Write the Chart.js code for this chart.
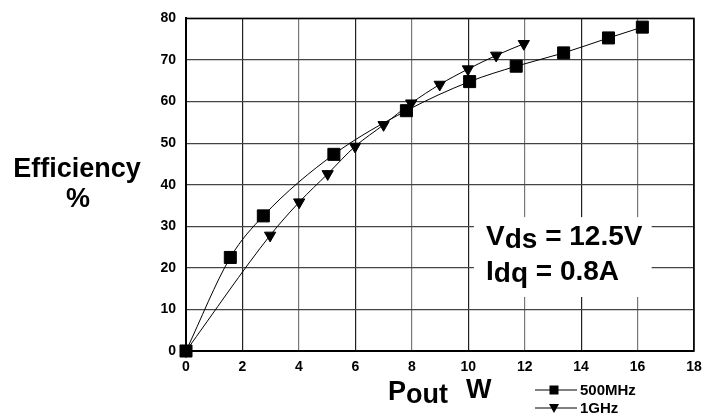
<!DOCTYPE html>
<html>
<head>
<meta charset="utf-8">
<script src="https://cdn.jsdelivr.net/npm/chart.js@4.4.0/dist/chart.umd.min.js"></script>
<style>
  html, body { margin: 0; padding: 0; background: #fff; }
  #wrap { width: 720px; height: 420px; }
</style>
</head>
<body>
<div id="wrap"><canvas id="effChart" width="720" height="420"></canvas></div>
<script>
// Pout (W) and drain efficiency (%)
const pout500 = [0, 1.57, 2.74, 5.24, 7.81, 10.05, 11.7, 13.38, 14.97, 16.17];
const eff500 = [0, 22.5, 32.5, 47.3, 57.8, 64.8, 68.5, 71.7, 75.3, 77.9];
const pout1g = [0, 2.98, 4.01, 5.02, 5.99, 7.0, 7.98, 8.99, 9.99, 10.99, 11.97];
const eff1g = [0, 27.8, 35.8, 42.6, 49.2, 54.4, 59.6, 64.1, 67.8, 71.1, 73.9];
const seriesNames = ["500MHz", "1GHz"];
const xTickRange = [0, 18, 2];
const yTickRange = [0, 80, 10];

const FONT = '"Liberation Sans", Arial, sans-serif';

function toPoints(xs, ys) {
  return xs.map((x, i) => ({ x: x, y: ys[i] }));
}

// titles, condition box, legend and frame
const decorations = {
  id: "decorations",
  beforeDatasetsDraw(chart) {
    const { ctx, scales } = chart;
    const x = scales.x, y = scales.y;
    // white box behind the bias text
    ctx.save();
    ctx.fillStyle = "#fff";
    ctx.fillRect(x.getPixelForValue(10.2), y.getPixelForValue(32.2),
      x.getPixelForValue(16.5) - x.getPixelForValue(10.2),
      y.getPixelForValue(13) - y.getPixelForValue(32.2));
    ctx.restore();
  },
  afterDraw(chart) {
    const { ctx, chartArea } = chart;
    ctx.save();
    ctx.strokeStyle = "#000";
    ctx.lineWidth = 1.5;
    ctx.strokeRect(chartArea.left, chartArea.top, chartArea.right - chartArea.left, chartArea.bottom - chartArea.top);

    ctx.fillStyle = "#000";
    ctx.textBaseline = "alphabetic";
    ctx.font = "bold 27px " + FONT;
    ctx.textAlign = "center";
    ctx.fillText("Efficiency", 77, 177);
    ctx.fillText("%", 78, 207);

    ctx.textAlign = "left";
    ctx.fillText("P", 388, 400);
    const pw = ctx.measureText("P").width;
    ctx.fillText("out", 388 + pw, 403);
    ctx.fillText("W", 466, 398);

    // Vds / Idq
    ctx.font = "bold 28px " + FONT;
    ctx.fillText("V", 486, 245);
    let w = ctx.measureText("V").width;
    ctx.fillText("ds", 486 + w, 248);
    w += ctx.measureText("ds").width;
    ctx.fillText(" = 12.5V", 486 + w, 245);
    ctx.fillText("I", 486, 280);
    w = ctx.measureText("I").width;
    ctx.fillText("dq", 486 + w, 282);
    w += ctx.measureText("dq").width;
    ctx.fillText(" = 0.8A", 486 + w, 280);

    // legend
    const rows = [[390, "rect"], [408, "triangle"]];
    ctx.font = "bold 15px " + FONT;
    ctx.textBaseline = "middle";
    rows.forEach((r, i) => {
      const ly = r[0];
      ctx.strokeStyle = "#000";
      ctx.lineWidth = 1;
      ctx.beginPath();
      ctx.moveTo(535, ly);
      ctx.lineTo(577, ly);
      ctx.stroke();
      ctx.beginPath();
      if (r[1] === "rect") {
        ctx.rect(549.5, ly - 4.5, 9, 9);
      } else {
        ctx.moveTo(549, ly - 4);
        ctx.lineTo(559, ly - 4);
        ctx.lineTo(554, ly + 5);
        ctx.closePath();
      }
      ctx.fill();
      ctx.fillText(seriesNames[i], 580, ly + 1);
    });
    ctx.restore();
  }
};

new Chart(document.getElementById("effChart"), {
  type: "scatter",
  data: {
    datasets: [
      {
        label: seriesNames[0],
        data: toPoints(pout500, eff500),
        showLine: true,
        borderColor: "#000",
        backgroundColor: "#000",
        borderWidth: 1,
        pointStyle: "rect",
        pointRadius: 8.5,
        pointHoverRadius: 8.5,
        cubicInterpolationMode: "monotone",
        clip: false
      },
      {
        label: seriesNames[1],
        data: toPoints(pout1g, eff1g),
        showLine: true,
        borderColor: "#000",
        backgroundColor: "#000",
        borderWidth: 1,
        pointStyle: "triangle",
        rotation: 180,
        pointRadius: 6.5,
        pointHoverRadius: 6.5,
        cubicInterpolationMode: "monotone",
        clip: false
      }
    ]
  },
  options: {
    responsive: false,
    animation: false,
    devicePixelRatio: 1,
    layout: { padding: { top: 12, right: 26, left: 0, bottom: 0 } },
    plugins: { legend: { display: false }, tooltip: { enabled: false } },
    scales: {
      x: {
        type: "linear",
        min: xTickRange[0], max: xTickRange[1],
        afterFit(scale) { scale.height = 69; },
        ticks: { stepSize: xTickRange[2], color: "#000", padding: 8, font: { family: FONT, size: 14, weight: "bold" } },
        grid: {
          drawTicks: false,
          color: ctx => (ctx.index % 2 === 1 ? "#222" : "#777"),
          lineWidth: 1.2
        },
        border: { color: "#000", width: 2 }
      },
      y: {
        type: "linear",
        min: yTickRange[0], max: yTickRange[1],
        afterFit(scale) { scale.width = 186; },
        ticks: { stepSize: yTickRange[2], color: "#000", padding: 10, font: { family: FONT, size: 14, weight: "bold" } },
        grid: { drawTicks: false, color: "#444", lineWidth: 1.2 },
        border: { color: "#000", width: 2 }
      }
    }
  },
  plugins: [decorations]
});
</script>
</body>
</html>
